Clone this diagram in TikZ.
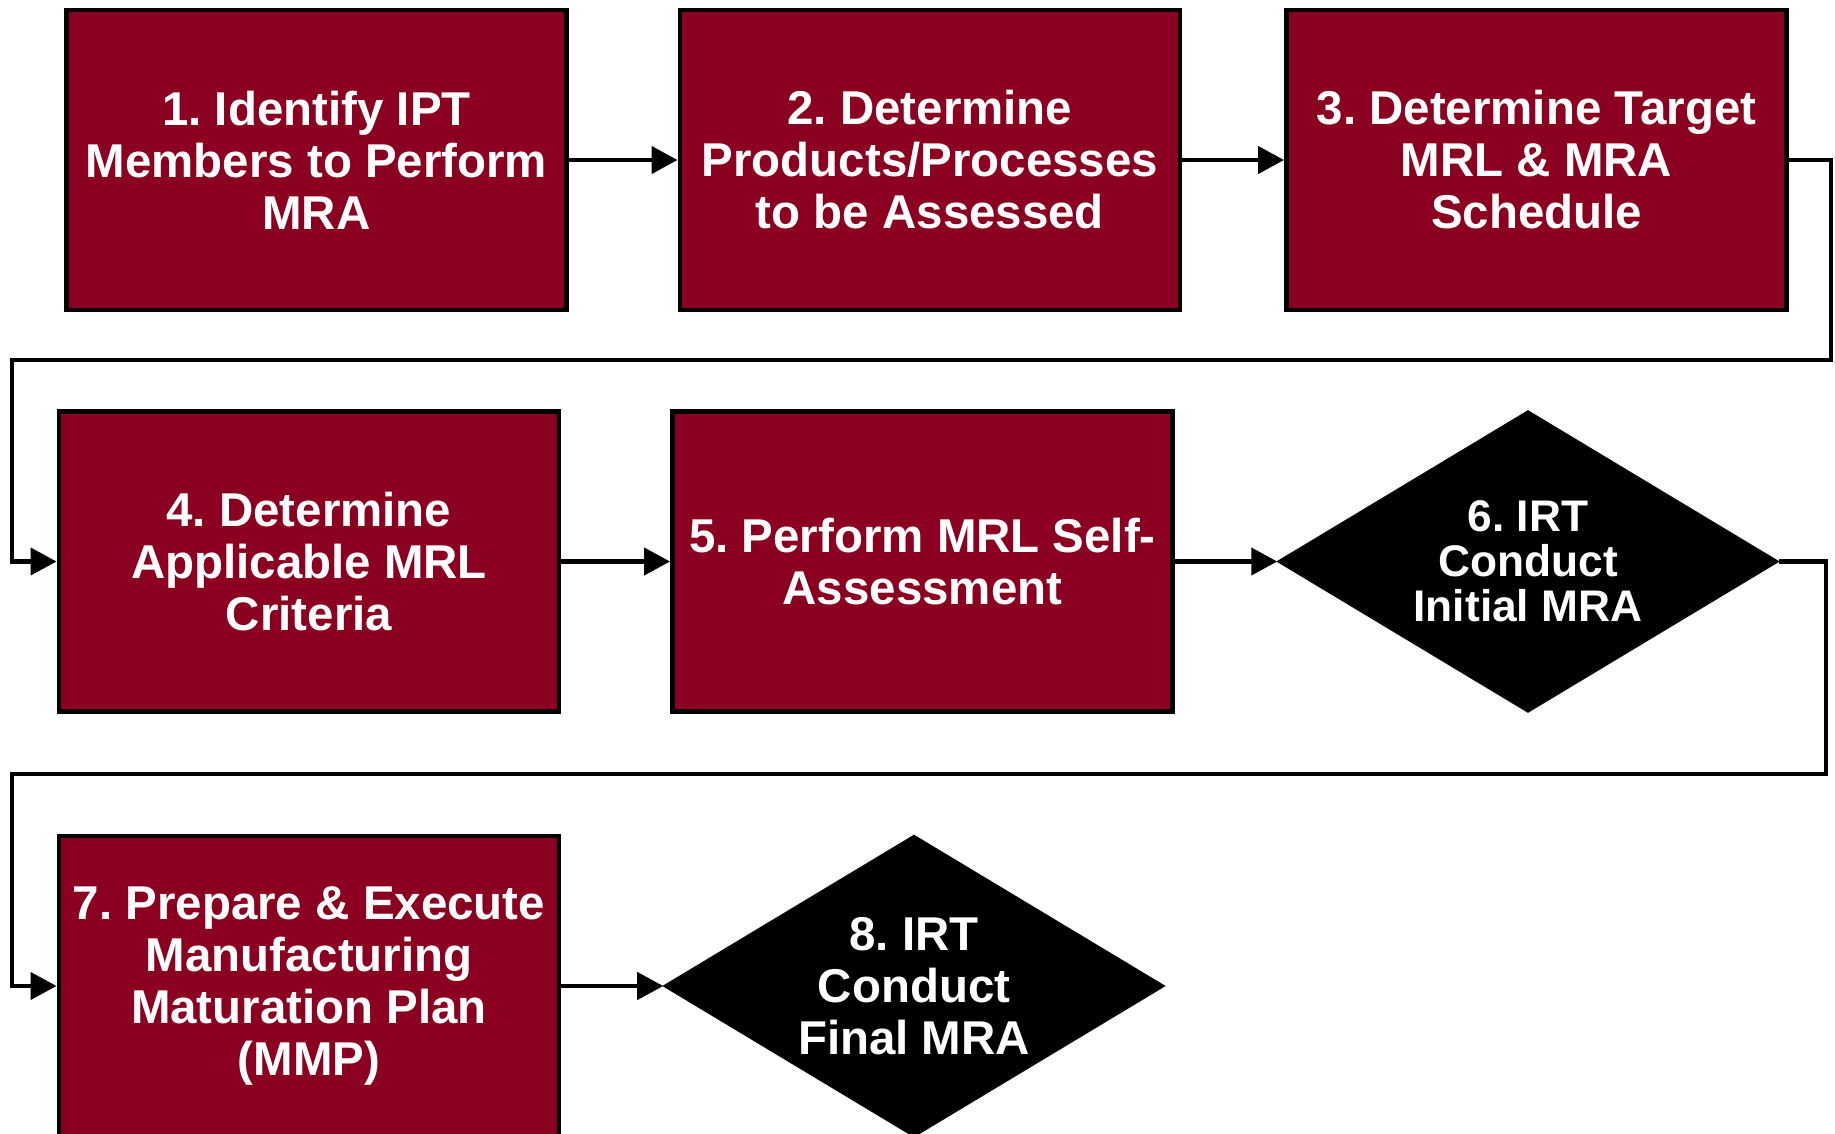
\documentclass[tikz,border=0pt]{standalone}
\usepackage{fontspec}
\setmainfont{Liberation Sans}
\usetikzlibrary{shapes.geometric,arrows.meta}
\definecolor{mrared}{RGB}{139,0,32}
\frenchspacing
\begin{document}
\begin{tikzpicture}
[
 inner sep=0.5mm,
 STEPBOX/.style={rectangle, draw=black, fill=mrared, line width=1.4pt, minimum width=5.0cm, minimum height=3.0cm,
                 text=white, align=center, font=\bfseries\fontsize{13.5}{14.8}\selectfont},
 DECISION/.style={diamond, draw=black, fill=black, line width=1pt, aspect=1.67, inner sep=0pt,
                  minimum width=4.98cm, minimum height=3.0cm,
                  text=white, align=center, font=\bfseries\fontsize{13.5}{14.8}\selectfont},
 FLOW/.style={line width=1.2pt, -{Triangle[length=0.26cm,width=0.27cm]}},
 ]
%
\useasboundingbox (0,0) rectangle (18.35,-11.34);
%
\node [STEPBOX]  (S1)  at ( 3.165,-1.60)  {1. Identify IPT\\Members to Perform\\MRA};
\node [STEPBOX]  (S2)  at ( 9.300,-1.60)  {2. Determine\\Products/Processes\\to be Assessed};
\node [STEPBOX]  (S3)  at (15.365,-1.60)  {3. Determine Target\\MRL \& MRA\\Schedule};
%
\node [STEPBOX]  (S4)  at ( 3.090,-5.615) {4. Determine\\Applicable MRL\\Criteria};
\node [STEPBOX]  (S5)  at ( 9.225,-5.615) {5. Perform MRL Self-\\Assessment};
\node [DECISION, font=\bfseries\fontsize{12.6}{12.8}\selectfont]
                 (S6)  at (15.280,-5.615) {6. IRT\\Conduct\\Initial MRA};
%
\node [STEPBOX]  (S7)  at ( 3.090,-9.86)  {7. Prepare \& Execute\\Manufacturing\\Maturation Plan\\(MMP)};
\node [DECISION] (S8)  at ( 9.140,-9.86)  {8. IRT\\Conduct\\Final MRA};
%
\coordinate (R1a) at (18.31,-3.60);
\coordinate (R1b) at ( 0.12,-3.60);
\coordinate (R2a) at (18.26,-7.74);
\coordinate (R2b) at ( 0.12,-7.74);
%
\draw [FLOW]  (S1.east) -- (S2.west) ;
\draw [FLOW]  (S2.east) -- (S3.west) ;
\draw [FLOW]  (S3.east) -| (R1a) -- (R1b) |- (S4.west) ;
%
\draw [FLOW]  (S4.east) -- (S5.west) ;
\draw [FLOW]  (S5.east) -- (S6.west) ;
\draw [FLOW]  (S6.east) -| (R2a) -- (R2b) |- (S7.west) ;
%
\draw [FLOW]  (S7.east) -- (S8.west) ;
%
\end{tikzpicture}
\end{document}
